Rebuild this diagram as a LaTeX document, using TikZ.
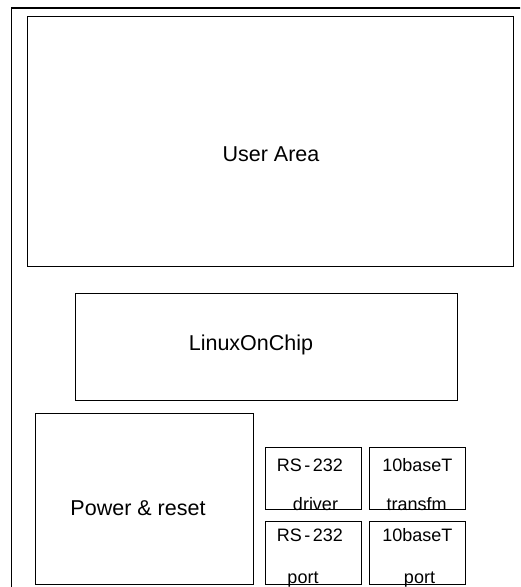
\documentclass[tikz,border=0pt]{standalone}
\usepackage{fontspec}
\setmainfont{Liberation Sans}
\newcommand{\rsname}{RS\kern2.5pt-\kern2.5pt232}
\begin{document}
\begin{tikzpicture}[
        x=1pt, y=-1pt,
        blk/.style={draw, line width=1.1pt, inner sep=0pt, anchor=north west},
        big/.style={font=\fontsize{21.5}{24}\selectfont, inner sep=0pt, anchor=base},
        small/.style={font=\fontsize{18}{20}\selectfont, inner sep=0pt, anchor=base},
    ]
    \path[use as bounding box, clip] (0,0) rectangle (520,587);
    % board outline, runs off the page to the right and below
    \draw[line width=1.1pt] (11.5,600) |- (540,8);

    \node[blk, minimum width=486pt, minimum height=250pt](user) at (27,16) {};
    \node[big](usert) at (271,161.7) {User Area};

    \node[blk, minimum width=382pt, minimum height=107pt](loc) at (75,293) {};
    \node[big](loct) at (251,350) {LinuxOnChip};

    \node[blk, minimum width=218pt, minimum height=171pt](pwr) at (35,413) {};
    \node[big](pwrt) at (138,515) {Power \& reset};

    % small parts
    \node[blk, minimum width=96pt, minimum height=62pt](drv) at (265,447) {};
    \node[small](drva) at (309.8,471.3) {\rsname};
    \node[small](drvb) at (315.5,510.5) {driver};

    \node[blk, minimum width=96pt, minimum height=62pt](xfm) at (369,447) {};
    \node[small](xfma) at (417.3,471.3) {10baseT};
    \node[small](xfmb) at (416.7,510.5) {transfm};

    \node[blk, minimum width=96pt, minimum height=63pt](rsp) at (265,521) {};
    \node[small](rspa) at (309.8,541.3) {\rsname};
    \node[small](rspb) at (303,583) {port};

    \node[blk, minimum width=96pt, minimum height=63pt](eth) at (369,521) {};
    \node[small](etha) at (417.3,541.3) {10baseT};
    \node[small](ethb) at (419.5,583) {port};
\end{tikzpicture}
\end{document}
